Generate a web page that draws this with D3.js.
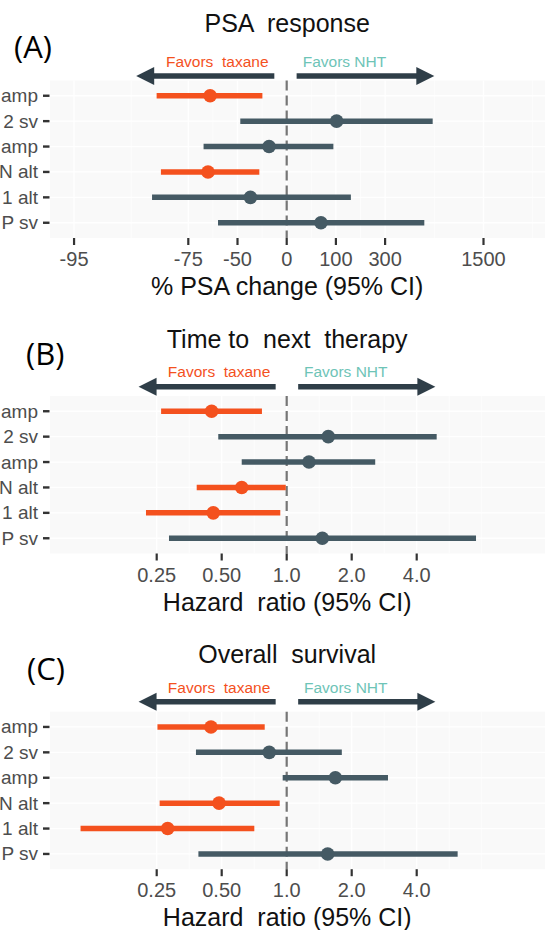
<!DOCTYPE html>
<html lang="en">
<head>
    <meta charset="UTF-8">
    <title>Forest plots</title>
    <script src="https://d3js.org/d3.v7.min.js"></script>
    <style>
        body { margin: 0; background: #fff; }
        svg { display: block; font-family: "Liberation Sans", Arial, sans-serif; }
    </style>
</head>
<body>
    <div id="chart"></div>
    <script>
        // row labels (cut off at the left edge in the original)
        const rowLabels = ["amp", "2 sv", "amp", "N alt", "1 alt", "P sv"];

        // (A) PSA response, % change
        const psaEst  = [-66, 102, -22, -67, -40, 62];
        const psaLow  = [-84, -48, -69, -83, -85, -62];
        const psaHigh = [-29, 682, 93, -32, 147, 595];
        const psaGroup = ["taxane", "none", "none", "taxane", "none", "none"];
        const psaTicks = [-95, -75, -50, 0, 100, 300, 1500];
        const psaArrows = [[-88, -16], [15, 700]];

        // (B) Time to next therapy, hazard ratio
        const ttntEst  = [0.449, 1.558, 1.268, 0.619, 0.457, 1.462];
        const ttntLow  = [0.262, 0.482, 0.619, 0.383, 0.223, 0.285];
        const ttntHigh = [0.768, 4.95, 2.57, 0.99, 0.934, 7.53];
        const ttntGroup = ["taxane", "none", "none", "taxane", "taxane", "none"];

        // (C) Overall survival, hazard ratio
        const osEst  = [0.446, 0.83, 1.68, 0.486, 0.281, 1.548];
        const osLow  = [0.252, 0.38, 0.958, 0.258, 0.111, 0.39];
        const osHigh = [0.791, 1.80, 2.945, 0.928, 0.708, 6.19];
        const osGroup = ["taxane", "none", "none", "taxane", "taxane", "none"];

        const hrTicks = [0.25, 0.5, 1, 2, 4];
        const hrTickLabels = ["0.25", "0.50", "1.0", "2.0", "4.0"];
        const hrArrows = [[0.206, 0.889], [1.13, 4.88]];

        const colors = { taxane: "#f4511e", none: "#455a64" };
        const arrowColor = "#2f3e48";
        const nhtColor = "#6ec4b7";
        const W = 545, H = 930;
        const nullX = 286.7;

        const svg = d3.select("#chart").append("svg")
            .attr("width", W).attr("height", H);

        const pct = p => 1 + p / 100;

        const panels = [
            {
                letter: "(A)", letterX: 14, letterY: 58,
                title: "PSA  response", axisTitle: "% PSA change (95% CI)",
                top: 80.5, pxPerDoubling: 49.2, favY: 66.7, arrowY: 76,
                est: psaEst.map(pct), low: psaLow.map(pct), high: psaHigh.map(pct),
                group: psaGroup,
                ticks: psaTicks.map(pct), tickLabels: psaTicks.map(String),
                arrows: psaArrows.map(a => a.map(pct))
            },
            {
                letter: "(B)", letterX: 26, letterY: 365,
                title: "Time to  next  therapy", axisTitle: "Hazard  ratio (95% CI)",
                top: 396, pxPerDoubling: 65, favY: 376.7, arrowY: 386.7,
                est: ttntEst, low: ttntLow, high: ttntHigh, group: ttntGroup,
                ticks: hrTicks, tickLabels: hrTickLabels, arrows: hrArrows
            },
            {
                letter: "(C)", letterX: 27, letterY: 680,
                title: "Overall  survival", axisTitle: "Hazard  ratio (95% CI)",
                top: 711.7, pxPerDoubling: 65, favY: 692.7, arrowY: 701.7,
                est: osEst, low: osLow, high: osHigh, group: osGroup,
                ticks: hrTicks, tickLabels: hrTickLabels, arrows: hrArrows
            }
        ];

        const panelH = 157.5;
        const plotLeft = 50;

        panels.forEach(p => {
            const g = svg.append("g");
            const top = p.top, bottom = p.top + panelH;

            // log2 scale around the null value 1
            const k = p.pxPerDoubling;
            const x = d3.scaleLog().base(2).domain([0.25, 4]).range([nullX - 2 * k, nullX + 2 * k]);
            const y = d3.scalePoint().domain(d3.range(rowLabels.length)).range([top, bottom]).padding(0.6);

            // panel background
            g.append("rect")
                .attr("x", plotLeft).attr("y", top)
                .attr("width", W - plotLeft).attr("height", panelH)
                .attr("fill", "#f9f9f9");

            // minor grid (midpoints in log space)
            const lt = p.ticks.map(t => Math.log2(t));
            const minor = [];
            for (let i = 0; i < lt.length - 1; i++) minor.push((lt[i] + lt[i + 1]) / 2);
            minor.push(lt[lt.length - 1] + (lt[lt.length - 1] - lt[lt.length - 2]) / 2);
            minor.push(lt[lt.length - 1] + (lt[lt.length - 1] - lt[lt.length - 2]));
            g.selectAll(".minor").data(minor).enter().append("line")
                .attr("x1", d => x(Math.pow(2, d))).attr("x2", d => x(Math.pow(2, d)))
                .attr("y1", top).attr("y2", bottom)
                .attr("stroke", "#fff").attr("stroke-width", 0.7);

            // major grid
            g.selectAll(".major").data(p.ticks).enter().append("line")
                .attr("x1", d => x(d)).attr("x2", d => x(d))
                .attr("y1", top).attr("y2", bottom)
                .attr("stroke", "#fff").attr("stroke-width", 1.3);
            g.selectAll(".hgrid").data(d3.range(rowLabels.length)).enter().append("line")
                .attr("x1", plotLeft).attr("x2", W)
                .attr("y1", d => y(d)).attr("y2", d => y(d))
                .attr("stroke", "#fff").attr("stroke-width", 1.3);

            // null line
            g.append("line")
                .attr("x1", x(1)).attr("x2", x(1))
                .attr("y1", top).attr("y2", bottom)
                .attr("stroke", "#767676").attr("stroke-width", 2.2)
                .attr("stroke-dasharray", "10,5");

            // error bars
            const rows = d3.range(rowLabels.length);
            g.selectAll(".ci").data(rows).enter().append("line")
                .attr("x1", i => x(p.low[i])).attr("x2", i => x(p.high[i]))
                .attr("y1", i => y(i)).attr("y2", i => y(i))
                .attr("stroke", i => colors[p.group[i]])
                .attr("stroke-width", 5.5);
            g.selectAll(".pt").data(rows).enter().append("circle")
                .attr("cx", i => x(p.est[i])).attr("cy", i => y(i))
                .attr("r", 6.8)
                .attr("fill", i => colors[p.group[i]]);

            // y axis
            g.selectAll(".ytick").data(rows).enter().append("line")
                .attr("x1", plotLeft - 7).attr("x2", plotLeft - 0.5)
                .attr("y1", i => y(i)).attr("y2", i => y(i))
                .attr("stroke", "#333").attr("stroke-width", 2.4);
            g.selectAll(".ylab").data(rows).enter().append("text")
                .attr("x", plotLeft - 12).attr("y", i => y(i) + 6.5)
                .attr("text-anchor", "end")
                .attr("font-size", 19).attr("fill", "#4d4d4d")
                .text(i => rowLabels[i]);

            // x axis
            g.selectAll(".xtick").data(p.ticks).enter().append("line")
                .attr("x1", d => x(d)).attr("x2", d => x(d))
                .attr("y1", bottom).attr("y2", bottom + 7)
                .attr("stroke", "#333").attr("stroke-width", 2.2);
            g.selectAll(".xlab").data(p.ticks).enter().append("text")
                .attr("x", d => x(d)).attr("y", bottom + 28)
                .attr("text-anchor", "middle")
                .attr("font-size", 20).attr("fill", "#4d4d4d")
                .text((d, i) => p.tickLabels[i]);
            g.append("text")
                .attr("x", x(1) + 0.5).attr("y", bottom + 57)
                .attr("text-anchor", "middle")
                .attr("font-size", 25).attr("fill", "#111")
                .style("white-space", "pre")
                .text(p.axisTitle);

            // title and panel letter
            g.append("text")
                .attr("x", x(1) + 0.5).attr("y", top - 48.5)
                .attr("text-anchor", "middle")
                .attr("font-size", 25).attr("fill", "#111")
                .style("white-space", "pre")
                .text(p.title);
            g.append("text")
                .attr("x", p.letterX).attr("y", p.letterY)
                .attr("font-family", "'Open Sans', sans-serif")
                .attr("font-size", 31).attr("fill", "#000")
                .text(p.letter);

            // direction arrows
            const [leftArrow, rightArrow] = p.arrows;
            const drawArrow = (tip, tail) => {
                const xt = x(tip), xs = x(tail), dir = Math.sign(xt - xs);
                const head = 18;
                g.append("line")
                    .attr("x1", xs).attr("x2", xt - dir * head * 0.8)
                    .attr("y1", p.arrowY).attr("y2", p.arrowY)
                    .attr("stroke", arrowColor).attr("stroke-width", 5.5);
                g.append("path")
                    .attr("d", `M${xt},${p.arrowY} L${xt - dir * head},${p.arrowY - 9} L${xt - dir * head},${p.arrowY + 9} Z`)
                    .attr("fill", arrowColor);
            };
            drawArrow(leftArrow[0], leftArrow[1]);
            drawArrow(rightArrow[1], rightArrow[0]);

            g.append("text")
                .attr("x", (x(leftArrow[0]) + x(leftArrow[1])) / 2 + 12).attr("y", p.favY)
                .attr("text-anchor", "middle")
                .attr("font-size", 15.5).attr("fill", colors.taxane)
                .style("white-space", "pre")
                .text("Favors  taxane");
            g.append("text")
                .attr("x", (x(rightArrow[0]) + x(rightArrow[1])) / 2 - 21).attr("y", p.favY)
                .attr("text-anchor", "middle")
                .attr("font-size", 15.5).attr("fill", nhtColor)
                .text("Favors NHT");
        });
    </script>
</body>
</html>
